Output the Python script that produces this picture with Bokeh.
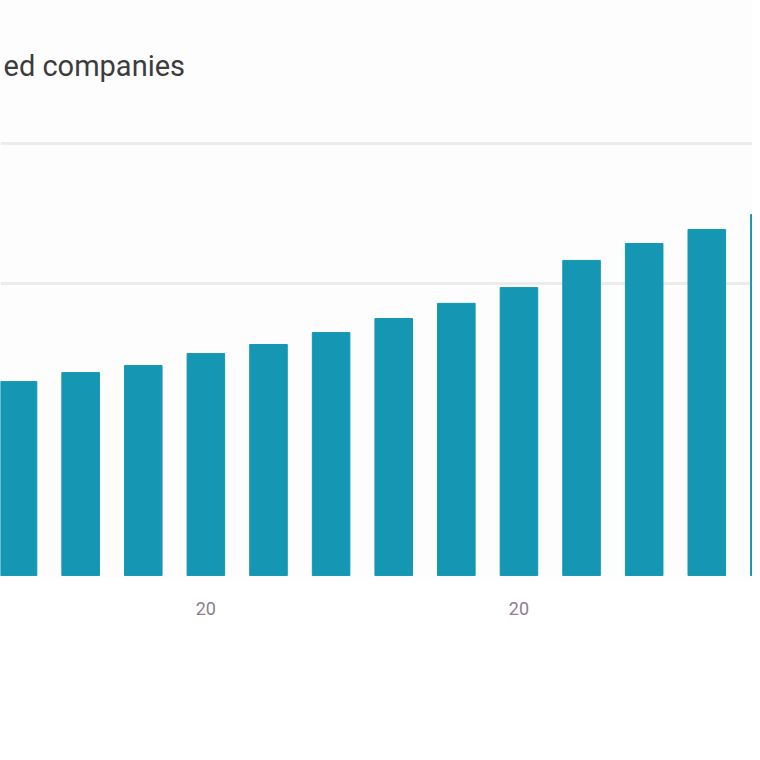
from bokeh.plotting import figure
from bokeh.models import Range1d, FixedTicker, Label
from bokeh.embed import file_html
from bokeh.resources import INLINE

# data
positions = list(range(1, 14))
values = [664, 695, 719, 760, 791, 832, 880, 932, 986, 1079, 1137, 1185, 1236]
tick_positions = [4, 9]
tick_labels = ["20", "20"]
title_text = "ed companies"
bar_color = "#1597b3"

p = figure(frame_width=752, frame_height=580, output_backend="svg",
           toolbar_location=None, min_border=0,
           x_range=Range1d(0.72, 12.73), y_range=Range1d(-17, 1969),
           y_axis_location=None, x_axis_location="below")
p.outline_line_color = None
p.background_fill_color = "#fdfdfd"
p.border_fill_color = "white"

p.vbar(x=positions, top=values, bottom=0, width=0.6, color=bar_color)

p.xgrid.visible = False
p.ygrid.ticker = FixedTicker(ticks=[1000, 1480])
p.ygrid.grid_line_color = "#ececec"
p.ygrid.grid_line_width = 3

ax = p.xaxis[0]
ax.ticker = FixedTicker(ticks=tick_positions)
ax.major_label_overrides = {pos: lab for pos, lab in zip(tick_positions, tick_labels)}
ax.axis_line_color = None
ax.major_tick_line_color = None
ax.minor_tick_line_color = None
ax.major_label_standoff = 15
ax.major_label_text_font = "Roboto"
ax.major_label_text_font_size = "18px"
ax.major_label_text_color = "#8a808a"

p.add_layout(Label(x=3, y=515, x_units="screen", y_units="screen", text=title_text,
                   text_align="left", text_baseline="middle", text_font="Roboto",
                   text_font_size="29px", text_color="#3c3c3c"))

open("out.html", "w").write(file_html(p, INLINE))
